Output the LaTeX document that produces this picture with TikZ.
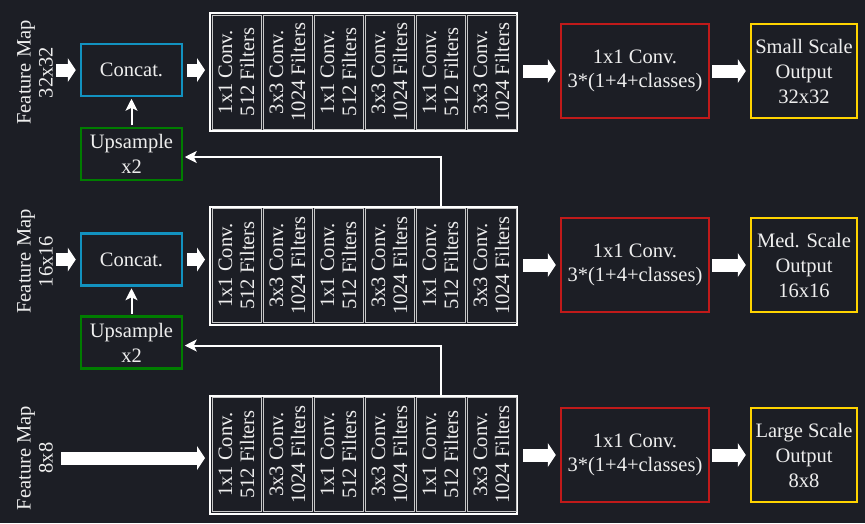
\documentclass[tikz,border=0pt]{standalone}
\usepackage{fontspec}
\setmainfont{Liberation Serif}
\usetikzlibrary{arrows.meta}
\definecolor{bg}{RGB}{28,30,37}
\definecolor{tx}{RGB}{238,238,238}
\definecolor{cblue}{RGB}{18,146,192}
\definecolor{cgreen}{RGB}{0,125,0}
\definecolor{cred}{RGB}{192,26,26}
\definecolor{cyel}{RGB}{255,212,0}
\definecolor{cgray}{RGB}{200,200,200}
\begin{document}
\begin{tikzpicture}[x=1pt,y=-1pt,
  every node/.style={text=tx, font=\fontsize{20.5}{23}\selectfont},
  box/.style={draw, line width=2.5pt, minimum width=101pt, minimum height=52pt, inner sep=0pt, align=center},
  concatbox/.style={box, draw=cblue},
  upbox/.style={box, draw=cgreen, font=\fontsize{20.5}{25}\selectfont},
  redbox/.style={box, draw=cred, minimum width=148pt, minimum height=94pt, font=\fontsize{20.5}{24}\selectfont},
  outbox/.style={box, draw=cyel, minimum width=106pt, minimum height=94pt, font=\fontsize{20.5}{25}\selectfont},
  blk/.style={draw=white, line width=2pt, minimum width=307pt, minimum height=118pt, inner sep=0pt},
  col/.style={draw=cgray, line width=1pt, rotate=90, minimum width=114pt, minimum height=49pt, inner sep=0pt, align=center, font=\fontsize{20.5}{22}\selectfont},
  fmlab/.style={rotate=90, align=center, inner sep=0pt, minimum height=40pt, font=\fontsize{20.5}{22}\selectfont},
  fat/.style={draw=white, line width=13pt, -{Triangle[length=8pt,width=24pt,line width=0pt]}},
  thinarrow/.style={draw=white, line width=2pt, -{Stealth[length=12pt,width=12pt,inset=3pt]}}
]
\fill[bg] (0,0) rectangle (865,523);
\useasboundingbox (0,0) rectangle (865,523);

% blocks of convolutions
\foreach \r/\y in {1/72,2/265.5,3/454.5}{
  \node[blk] (blk\r) at (363.5,\y) {};
  \foreach \i/\x/\t in {1/236.5/{1x1 Conv.\\512 Filters},2/287.5/{3x3 Conv.\\1024 Filters},3/338.5/{1x1 Conv.\\512 Filters},4/389.5/{3x3 Conv.\\1024 Filters},5/440.5/{1x1 Conv.\\512 Filters},6/491.5/{3x3 Conv.\\1024 Filters}}{
    \node[col] (c\r\i) at (\x,\y) {\t};
  }
}

% feature map labels
\node[fmlab] (fm1) at (35,72.5) {Feature Map\\32x32};
\node[fmlab] (fm2) at (35,261.5) {Feature Map\\16x16};
\node[fmlab] (fm3) at (35,458) {Feature Map\\8x8};

% concat and upsample
\node[concatbox] (cc1) at (131.5,70) {Concat.};
\node[concatbox] (cc2) at (131.5,259.5) {Concat.};
\node[upbox] (up1) at (131.5,154) {Upsample\\x2};
\node[upbox] (up2) at (131.5,342.5) {Upsample\\x2};

% heads
\node[redbox] (red1) at (635,71) {1x1 Conv.\\3*(1+4+classes)};
\node[redbox] (red2) at (635,265) {1x1 Conv.\\3*(1+4+classes)};
\node[redbox] (red3) at (635,455) {1x1 Conv.\\3*(1+4+classes)};
\node[outbox] (out1) at (804,71) {Small Scale\\Output\\32x32};
\node[outbox] (out2) at (804,265) {Med. Scale\\Output\\16x16};
\node[outbox] (out3) at (804,455) {Large Scale\\Output\\8x8};

% fat arrows
\draw[fat, shorten <=1pt, shorten >=4pt] (fm1.south |- cc1.west) -- (cc1.west);
\draw[fat, shorten <=1pt, shorten >=4pt] (fm2.south |- cc2.west) -- (cc2.west);
\draw[fat, shorten <=6pt, shorten >=4pt] (fm3.south) -- (fm3.south -| blk3.west);
\draw[fat, shorten <=4pt, shorten >=4pt] (cc1.east) -- (cc1.east -| blk1.west);
\draw[fat, shorten <=4pt, shorten >=4pt] (cc2.east) -- (cc2.east -| blk2.west);
\foreach \r in {1,2,3}{
  \draw[fat, shorten <=5pt, shorten >=4pt] (blk\r.east |- red\r.west) -- (red\r.west);
  \draw[fat, shorten <=2pt, shorten >=4pt] (red\r.east) -- (out\r.west);
}

% thin arrows
\draw[thinarrow, shorten <=1.5pt, shorten >=1.5pt] (up1.north) -- (cc1.south);
\draw[thinarrow, shorten <=1.5pt, shorten >=1.5pt] (up2.north) -- (cc2.south);
\draw[thinarrow, shorten >=1.5pt] (c25.center |- blk2.north) |- ([yshift=-3pt]up1.east);
\draw[thinarrow, shorten >=1.5pt] (c35.center |- blk3.north) |- ([yshift=-3pt]up2.east);
\end{tikzpicture}
\end{document}
